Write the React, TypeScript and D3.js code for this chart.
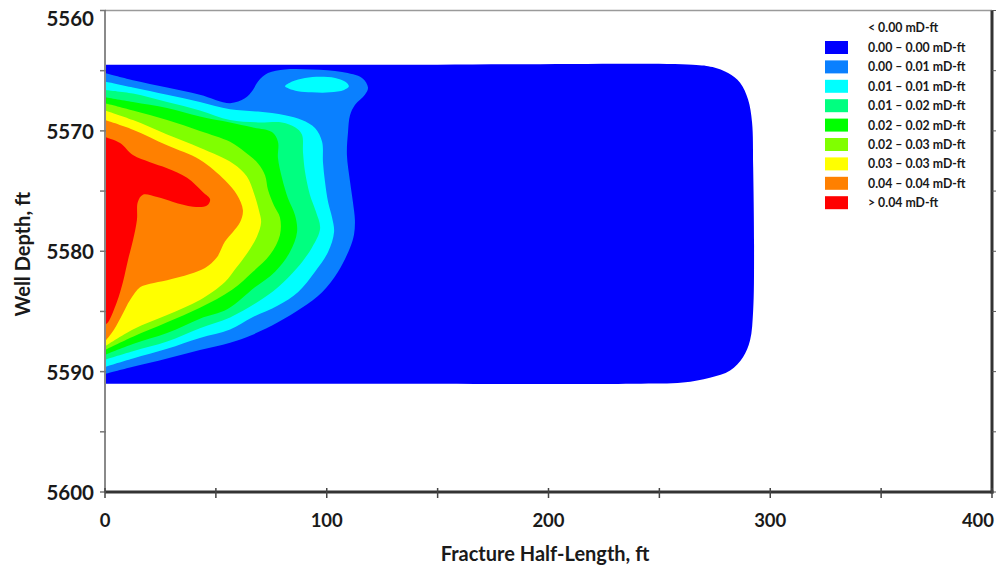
import React from 'react';
import * as d3 from 'd3';

const WIDTH = 997;
const HEIGHT = 575;

// Axis definitions
const xDomain: [number, number] = [0, 400];
const yDomain: [number, number] = [5560, 5600];
const xMajorTicks = [0, 100, 200, 300, 400];
const xMinorTicks = [50, 150, 250, 350];
const yMajorTicks = [5560, 5570, 5580, 5590, 5600];
const yMinorTicks = [5565, 5575, 5585, 5595];

// Legend
const legendHeader = '< 0.00 mD-ft';
const legendLabels = [
  '0.00 – 0.00 mD-ft',
  '0.00 – 0.01 mD-ft',
  '0.01 – 0.01 mD-ft',
  '0.01 – 0.02 mD-ft',
  '0.02 – 0.02 mD-ft',
  '0.02 – 0.03 mD-ft',
  '0.03 – 0.03 mD-ft',
  '0.04 – 0.04 mD-ft',
  '> 0.04 mD-ft',
];
const bandColors = [
  '#0000ff',
  '#0a80ff',
  '#00ffff',
  '#00ff80',
  '#00ff00',
  '#80ff00',
  '#ffff00',
  '#ff8000',
  '#ff0000',
];

// Contour regions: [fracture half-length (ft), well depth (ft)].
// Each outline encloses the area at or above the band's lower bound,
// running from the wellbore (x = 0) at the top round to x = 0 at the bottom.
const zoneBand0: [number, number][] = [
  [0, 5564.5], [150, 5564.5], [265, 5564.5], [274, 5564.7], [281, 5565.2],
  [286.4, 5566.0], [290, 5567.4], [291.8, 5569.3], [292.3, 5573.0], [292.7, 5579.9],
  [292.3, 5584.9], [290.9, 5587.4], [287.7, 5588.8], [281.9, 5589.9], [272.8, 5590.5],
  [260.6, 5590.9], [238, 5591.0], [120, 5591.0], [0, 5591.0],
];
const zoneBand1: [number, number][] = [
  [0, 5565.2], [12.6, 5565.8], [28.0, 5566.4], [42.8, 5567.0], [56.4, 5567.7],
  [63.1, 5567.3], [66.7, 5566.6], [69.0, 5565.9], [73.5, 5565.2], [81.2, 5564.9],
  [93.3, 5564.9], [106.9, 5565.1], [115.9, 5565.6], [118.6, 5566.4], [117.2, 5567.0],
  [112.7, 5567.85], [110.5, 5568.7], [109.6, 5570.1], [109.1, 5572.0], [110.5, 5574.2],
  [111.8, 5575.9], [112.7, 5577.4], [112.3, 5578.6], [110.5, 5579.7], [105.1, 5581.7],
  [97.9, 5583.4], [88.8, 5584.7], [78.0, 5585.9], [66.3, 5586.95], [56.4, 5587.6],
  [42.8, 5588.2], [28.0, 5588.9], [12.6, 5589.6], [0, 5590.2],
];
const zoneBand2: [number, number][] = [
  [0, 5565.9], [12.6, 5566.4], [28.0, 5567.0], [42.8, 5567.6], [56.4, 5568.2],
  [69.0, 5568.4], [81.2, 5568.7], [88.8, 5569.1], [94.7, 5569.76], [97.9, 5570.9],
  [98.3, 5572.6], [99.2, 5574.2], [100.6, 5575.9], [102.4, 5577.2], [103.3, 5578.4],
  [100.6, 5580.06], [94.7, 5581.7], [87.0, 5583.4], [78.0, 5584.5], [66.3, 5585.5],
  [56.4, 5586.5], [42.8, 5587.2], [28.0, 5588.1], [12.6, 5588.9], [0, 5589.6],
];
const zoneBand3: [number, number][] = [
  [0, 5566.6], [12.6, 5566.9], [28.0, 5567.6], [42.8, 5568.3], [56.4, 5569.1],
  [69.0, 5569.3], [79.8, 5569.3], [85.7, 5569.7], [88.8, 5570.3], [89.3, 5571.8],
  [90.2, 5573.4], [92.4, 5575.3], [95.1, 5576.7], [97.0, 5578.1], [93.3, 5579.7],
  [86.6, 5581.4], [78.0, 5583.0], [69.0, 5584.2], [56.4, 5585.5], [42.8, 5586.4],
  [28.0, 5587.5], [12.6, 5588.3], [0, 5589.0],
];
const zoneBand4: [number, number][] = [
  [0, 5567.2], [12.6, 5567.6], [28.0, 5568.1], [42.8, 5568.8], [56.4, 5569.3],
  [66.3, 5569.7], [75.3, 5570.1], [78.0, 5570.9], [78.0, 5572.25], [79.8, 5573.9],
  [82.5, 5575.6], [85.7, 5577.0], [86.6, 5578.4], [83.4, 5580.06], [76.7, 5581.7],
  [67.6, 5583.0], [55.3, 5584.8], [42.8, 5585.6], [28.0, 5586.8], [12.6, 5587.7],
  [0, 5588.6],
];
const zoneBand5: [number, number][] = [
  [0, 5567.7], [12.6, 5568.3], [28.0, 5569.1], [42.8, 5570.0], [56.4, 5570.9],
  [63.1, 5571.75], [69.0, 5572.7], [72.2, 5573.7], [73.5, 5574.9], [76.2, 5576.2],
  [78.9, 5577.2], [78.9, 5578.65], [74.4, 5580.3], [66.7, 5581.7], [57.3, 5583.2],
  [42.8, 5584.7], [28.0, 5585.9], [12.6, 5587.1], [0, 5588.2],
];
const zoneBand6: [number, number][] = [
  [0, 5568.3], [12.6, 5569.1], [28.0, 5570.3], [42.8, 5571.4], [57.7, 5572.7],
  [64.0, 5573.8], [67.2, 5575.2], [69.4, 5576.6], [70.4, 5577.6], [68.5, 5578.8],
  [64.5, 5580.06], [59.1, 5581.4], [54.1, 5582.55], [42.8, 5584.05], [28.0, 5585.3],
  [12.6, 5586.5], [0, 5587.9],
];
const zoneBand7: [number, number][] = [
  [0, 5569.1], [12.6, 5569.9], [28.0, 5571.2], [42.8, 5572.4], [54.1, 5574.1],
  [59.5, 5575.3], [62.2, 5576.6], [60.9, 5577.6], [57.7, 5578.4], [54.1, 5579.2],
  [50.5, 5580.5], [45.1, 5581.4], [38.3, 5581.9], [28.0, 5582.4], [20.3, 5582.7],
  [15.8, 5583.0], [11.3, 5584.05], [7.7, 5585.3], [4.1, 5586.5], [0, 5587.5],
];
const zoneBand8: [number, number][] = [
  [0, 5570.5], [6.8, 5571.0], [12.6, 5572.0], [20.3, 5572.6], [28.0, 5573.1],
  [37.0, 5573.9], [44.2, 5575.1], [47.4, 5575.7], [46.0, 5576.2], [39.7, 5576.3],
  [30.7, 5575.9], [23.5, 5575.5], [17.1, 5575.3], [14.8, 5575.9], [14.4, 5577.4],
  [12.6, 5579.1], [10.4, 5580.7], [8.1, 5582.55], [5.4, 5584.2], [1.4, 5585.9],
  [0, 5586.1],
];
// Isolated pocket of the 0.01 band near the top of the fracture
const cyanPocket: [number, number][] = [
  [81.2, 5566.3], [84.4, 5565.9], [90.2, 5565.6], [97.0, 5565.5], [103.8, 5565.6],
  [108.2, 5565.9], [110.0, 5566.3], [107.8, 5566.6], [101.5, 5566.8], [93.3, 5566.8],
  [87.0, 5566.7], [83.0, 5566.5],
];

const zones = [
  zoneBand0, zoneBand1, zoneBand2, zoneBand3, zoneBand4,
  zoneBand5, zoneBand6, zoneBand7, zoneBand8,
];

const PLOT = { left: 105, right: 992, top: 10.5, bottom: 492 };
const FONT = 'Lato, "Open Sans", "DejaVu Sans", sans-serif';

export default function App() {
  const x = d3.scaleLinear().domain(xDomain).range([PLOT.left, PLOT.right]);
  const y = d3.scaleLinear().domain(yDomain).range([PLOT.top, PLOT.bottom]);

  const openLine = d3
    .line<[number, number]>()
    .x((d) => x(d[0]))
    .y((d) => y(d[1]))
    .curve(d3.curveCatmullRom.alpha(0.5));
  const closedLine = d3
    .line<[number, number]>()
    .x((d) => x(d[0]))
    .y((d) => y(d[1]))
    .curve(d3.curveCatmullRomClosed.alpha(0.5));

  const legendX = 825;
  const legendY0 = 41;
  const legendStep = 19.4;

  return (
    <svg
      width={WIDTH}
      height={HEIGHT}
      style={{ position: 'absolute', left: 0, top: 0, background: '#fff' }}
      fontFamily={FONT}
    >
      <defs>
        <clipPath id="plot-clip">
          <rect
            x={PLOT.left}
            y={PLOT.top}
            width={PLOT.right - PLOT.left}
            height={PLOT.bottom - PLOT.top}
          />
        </clipPath>
      </defs>

      <g clipPath="url(#plot-clip)">
        {zones.map((z, i) => (
          <path key={i} d={(openLine(z) || '') + 'Z'} fill={bandColors[i]} />
        ))}
        <path d={closedLine(cyanPocket) || ''} fill={bandColors[2]} />
      </g>

      {/* frame */}
      <line x1={PLOT.left} x2={PLOT.right} y1={PLOT.top} y2={PLOT.top} stroke="#9a9a9a" strokeWidth={1.5} />
      <line x1={PLOT.left} x2={PLOT.left} y1={PLOT.top} y2={PLOT.bottom} stroke="#8a8a8a" strokeWidth={2} />
      <line x1={PLOT.right} x2={PLOT.right} y1={PLOT.top} y2={PLOT.bottom + 1.5} stroke="#333" strokeWidth={3} />
      <line x1={PLOT.left} x2={PLOT.right + 1.5} y1={PLOT.bottom} y2={PLOT.bottom} stroke="#333" strokeWidth={3} />

      {/* y ticks */}
      {[...yMajorTicks, ...yMinorTicks].map((v) => (
        <line key={'yt' + v} x1={PLOT.left - 5} x2={PLOT.left + 1} y1={y(v)} y2={y(v)} stroke="#777" strokeWidth={1.5} />
      ))}
      {[...yMajorTicks, ...yMinorTicks].map((v) => (
        <line key={'yr' + v} x1={PLOT.right} x2={PLOT.right + 4} y1={y(v)} y2={y(v)} stroke="#555" strokeWidth={1} />
      ))}
      {/* x ticks */}
      {[...xMajorTicks, ...xMinorTicks].map((v) => (
        <line key={'xt' + v} x1={x(v)} x2={x(v)} y1={PLOT.bottom - 4} y2={PLOT.bottom + 6} stroke="#444" strokeWidth={1.5} />
      ))}

      {/* y tick labels */}
      {yMajorTicks.map((v) => (
        <text
          key={'yl' + v}
          x={94}
          y={Math.max(y(v), 18)}
          textAnchor="end"
          dominantBaseline="central"
          fontSize={20.5}
          fontWeight={700}
          fill="#1a1a1a"
        >
          {v}
        </text>
      ))}
      {/* x tick labels */}
      {xMajorTicks.map((v) => (
        <text
          key={'xl' + v}
          x={Math.min(x(v), 978)}
          y={520}
          textAnchor="middle"
          dominantBaseline="central"
          fontSize={18.5}
          fontWeight={700}
          fill="#1a1a1a"
        >
          {v}
        </text>
      ))}

      {/* axis titles */}
      <text
        transform={`translate(22, ${(PLOT.top + PLOT.bottom) / 2 + 3}) rotate(-90)`}
        textAnchor="middle"
        dominantBaseline="central"
        fontSize={20}
        fontWeight={700}
        fill="#1a1a1a"
      >
        Well Depth, ft
      </text>
      <text
        x={545}
        y={553}
        textAnchor="middle"
        dominantBaseline="central"
        fontSize={20}
        fontWeight={700}
        fill="#1a1a1a"
      >
        Fracture Half-Length, ft
      </text>

      {/* legend */}
      <text x={868} y={27} dominantBaseline="central" fontSize={12.3} fontWeight={700} fill="#1a1a1a">
        {legendHeader}
      </text>
      {legendLabels.map((label, i) => (
        <g key={'lg' + i}>
          <rect
            x={legendX}
            y={legendY0 + i * legendStep}
            width={23}
            height={13}
            fill={bandColors[i]}
          />
          <text
            x={868}
            y={legendY0 + i * legendStep + 6.5}
            dominantBaseline="central"
            fontSize={12.3}
            fontWeight={700}
            fill="#1a1a1a"
          >
            {label}
          </text>
        </g>
      ))}
    </svg>
  );
}
